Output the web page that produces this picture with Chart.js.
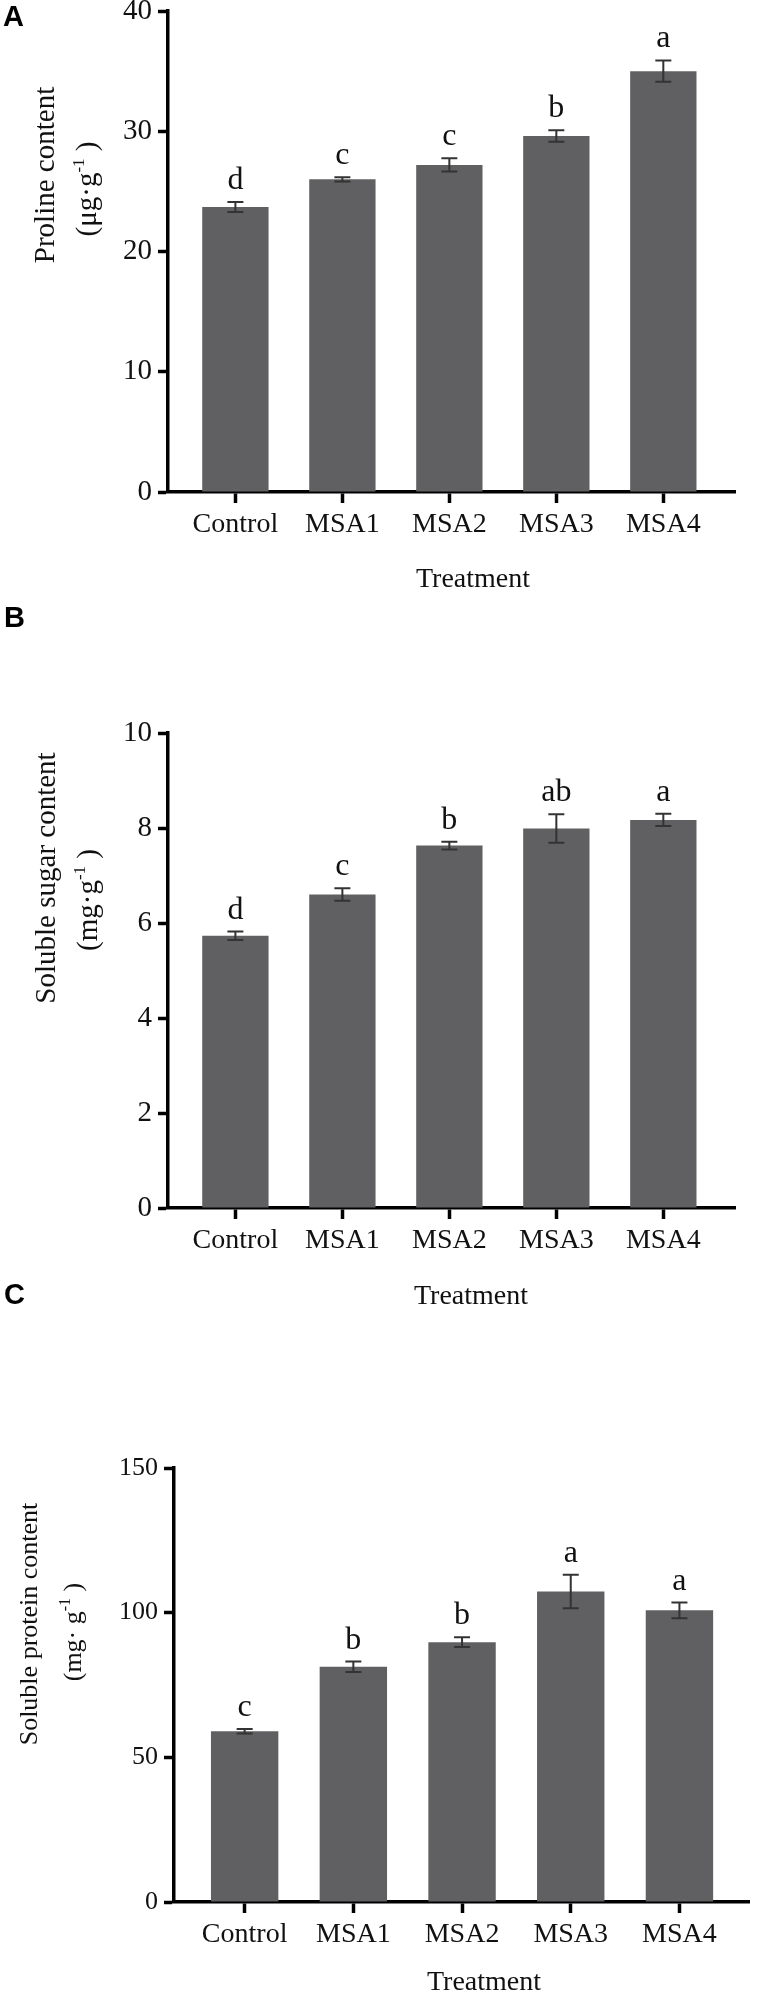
<!DOCTYPE html>
<html lang="en">
<head>
<meta charset="UTF-8">
<title>Proline, soluble sugar and soluble protein content</title>
<script src="https://cdn.jsdelivr.net/npm/chart.js"></script>
<style>
  body { margin: 0; background: #fff; }
  .wrap { position: relative; width: 764px; height: 1991px; overflow: hidden; }
  .panel { position: absolute; left: 0; width: 764px; }
  .panel canvas { display: block; }
</style>
</head>
<body>
<div class="wrap">
  <div class="panel" style="top:0"><canvas id="chartA" width="764" height="600"></canvas></div>
  <div class="panel" style="top:600px"><canvas id="chartB" width="764" height="710"></canvas></div>
  <div class="panel" style="top:1260px"><canvas id="chartC" width="764" height="731"></canvas></div>
</div>
<script>
// values
const categories = ['Control', 'MSA1', 'MSA2', 'MSA3', 'MSA4'];

const prolineMeans = [23.7, 26.0, 27.2, 29.6, 35.0];
const prolineErrors = [0.42, 0.17, 0.55, 0.48, 0.89];
const prolineLetters = ['d', 'c', 'c', 'b', 'a'];
const prolineTicks = [0, 10, 20, 30, 40];

const sugarMeans = [5.73, 6.60, 7.63, 7.99, 8.17];
const sugarErrors = [0.09, 0.13, 0.08, 0.30, 0.13];
const sugarLetters = ['d', 'c', 'b', 'ab', 'a'];
const sugarTicks = [0, 2, 4, 6, 8, 10];

const proteinMeans = [59.0, 81.3, 89.8, 107.3, 100.8];
const proteinErrors = [0.8, 1.8, 1.7, 5.8, 2.7];
const proteinLetters = ['c', 'b', 'b', 'a', 'a'];
const proteinTicks = [0, 50, 100, 150];

const serif = "'Liberation Serif', 'Times New Roman', serif";
const sans = "'Liberation Sans', Arial, sans-serif";

// error bars + significance letters, drawn from the bar elements
const errorBars = {
  id: 'errorBars',
  afterDatasetsDraw(chart) {
    const ctx = chart.ctx;
    const y = chart.scales.y;
    const ds = chart.data.datasets[0];
    ctx.save();
    chart.getDatasetMeta(0).data.forEach((bar, i) => {
      const v = ds.data[i].y, e = ds.errors[i];
      const top = y.getPixelForValue(v + e);
      const bot = y.getPixelForValue(v - e);
      ctx.strokeStyle = '#333';
      ctx.lineWidth = 2;
      ctx.beginPath();
      ctx.moveTo(bar.x, top); ctx.lineTo(bar.x, bot);
      ctx.moveTo(bar.x - 8, top); ctx.lineTo(bar.x + 8, top);
      ctx.moveTo(bar.x - 8, bot); ctx.lineTo(bar.x + 8, bot);
      ctx.stroke();
      ctx.fillStyle = '#111';
      ctx.font = '32px ' + serif;
      ctx.textAlign = 'center';
      ctx.textBaseline = 'alphabetic';
      ctx.fillText(ds.letters[i], bar.x, top - 13);
    });
    ctx.restore();
  }
};

// text made of [string, isSuperscript] parts, rotated, centred on (x, y)
function drawRotated(ctx, x, y, parts, size) {
  const supSize = Math.round(size * 0.6);
  let total = 0;
  parts.forEach(([t, sup]) => {
    ctx.font = (sup ? supSize : size) + 'px ' + serif;
    total += ctx.measureText(t).width;
  });
  ctx.save();
  ctx.translate(x, y);
  ctx.rotate(-Math.PI / 2);
  ctx.textAlign = 'left';
  ctx.textBaseline = 'alphabetic';
  let pos = -total / 2;
  parts.forEach(([t, sup]) => {
    ctx.font = (sup ? supSize : size) + 'px ' + serif;
    ctx.fillText(t, pos, sup ? -size * 0.42 : 0);
    pos += ctx.measureText(t).width;
  });
  ctx.restore();
}

function makeChart(id, p) {
  const T = p.top;
  const labels = {
    id: 'panelText',
    afterDraw(chart) {
      const ctx = chart.ctx;
      ctx.save();
      ctx.fillStyle = '#000';
      ctx.font = 'bold 29px ' + sans;
      ctx.textAlign = 'left';
      ctx.textBaseline = 'alphabetic';
      ctx.fillText(p.letter, p.letterPos[0], p.letterPos[1] - T);

      ctx.fillStyle = '#111';
      drawRotated(ctx, p.title1Pos[0], p.title1Pos[1] - T, [[p.title1, false]], p.titleSize);
      drawRotated(ctx, p.title2Pos[0], p.title2Pos[1] - T, p.title2, p.titleSize);

      ctx.font = '28px ' + serif;
      ctx.textAlign = 'center';
      ctx.fillText('Treatment', p.xTitlePos[0], p.xTitlePos[1] - T);
      ctx.restore();
    }
  };

  return new Chart(document.getElementById(id), {
    type: 'bar',
    data: {
      datasets: [{
        data: p.means.map((m, i) => ({ x: i, y: m })),
        errors: p.errors,
        letters: p.letters,
        backgroundColor: '#606062',
        borderWidth: 0,
        barPercentage: 0.62,
        categoryPercentage: 1
      }]
    },
    options: {
      responsive: false,
      animation: false,
      events: [],
      layout: { padding: { left: 0, top: p.area.top - T, right: 764 - p.area.right, bottom: 0 } },
      plugins: { legend: { display: false }, tooltip: { enabled: false } },
      scales: {
        x: {
          type: 'linear',
          bounds: 'data',
          min: p.xRange[0],
          max: p.xRange[1],
          offset: false,
          grid: { offset: false, drawOnChartArea: false, drawTicks: true, tickLength: 11, tickWidth: 3.5, tickColor: '#000' },
          border: { display: true, color: '#000', width: 3.5 },
          afterBuildTicks: s => { s.ticks = categories.map((c, i) => ({ value: i })); },
          afterFit: s => { s.height = p.height - (p.area.bottom - T); s.paddingLeft = 0; s.paddingRight = 0; },
          ticks: {
            callback: v => categories[v],
            color: '#111',
            font: { family: serif, size: 28 },
            padding: 5,
            autoSkip: false,
            maxRotation: 0
          }
        },
        y: {
          min: 0,
          max: p.ticks[p.ticks.length - 1],
          grid: { drawOnChartArea: false, drawTicks: true, tickLength: p.tickLen, tickWidth: 3.5, tickColor: '#000' },
          border: { display: true, color: '#000', width: 3.5 },
          afterBuildTicks: s => { s.ticks = p.ticks.map(v => ({ value: v })); },
          afterFit: s => { s.width = p.area.left; s.paddingTop = 0; s.paddingBottom = 0; },
          ticks: {
            callback: v => String(v),
            color: '#111',
            font: { family: serif, size: p.tickSize },
            padding: 6
          }
        }
      }
    },
    plugins: [errorBars, labels]
  });
}

makeChart('chartA', {
  top: 0, height: 600,
  area: { left: 168, right: 735, top: 11, bottom: 492 },
  xRange: [-0.63, 4.67],
  means: prolineMeans, errors: prolineErrors, letters: prolineLetters, ticks: prolineTicks,
  tickLen: 10, tickSize: 29, titleSize: 29,
  letter: 'A', letterPos: [3, 26],
  title1: 'Proline content', title1Pos: [54, 175],
  title2: [['(\u03bcg\u00b7g', false], ['-1', true], [' )', false]], title2Pos: [96, 189],
  xTitlePos: [473, 587]
});

makeChart('chartB', {
  top: 600, height: 710,
  area: { left: 168, right: 735, top: 733, bottom: 1208 },
  xRange: [-0.63, 4.67],
  means: sugarMeans, errors: sugarErrors, letters: sugarLetters, ticks: sugarTicks,
  tickLen: 10, tickSize: 29, titleSize: 29,
  letter: 'B', letterPos: [4, 627],
  title1: 'Soluble sugar content', title1Pos: [55, 878],
  title2: [['(mg\u00b7g', false], ['-1', true], [' )', false]], title2Pos: [97, 900],
  xTitlePos: [471, 1304]
});

makeChart('chartC', {
  top: 1260, height: 731,
  area: { left: 174, right: 749, top: 1468, bottom: 1902 },
  xRange: [-0.65, 4.64],
  means: proteinMeans, errors: proteinErrors, letters: proteinLetters, ticks: proteinTicks,
  tickLen: 10, tickSize: 26, titleSize: 26,
  letter: 'C', letterPos: [4, 1304],
  title1: 'Soluble protein content', title1Pos: [37, 1624],
  title2: [['(mg\u00b7 g', false], ['-1', true], [' )', false]], title2Pos: [81, 1632],
  xTitlePos: [484, 1990]
});
</script>
</body>
</html>
